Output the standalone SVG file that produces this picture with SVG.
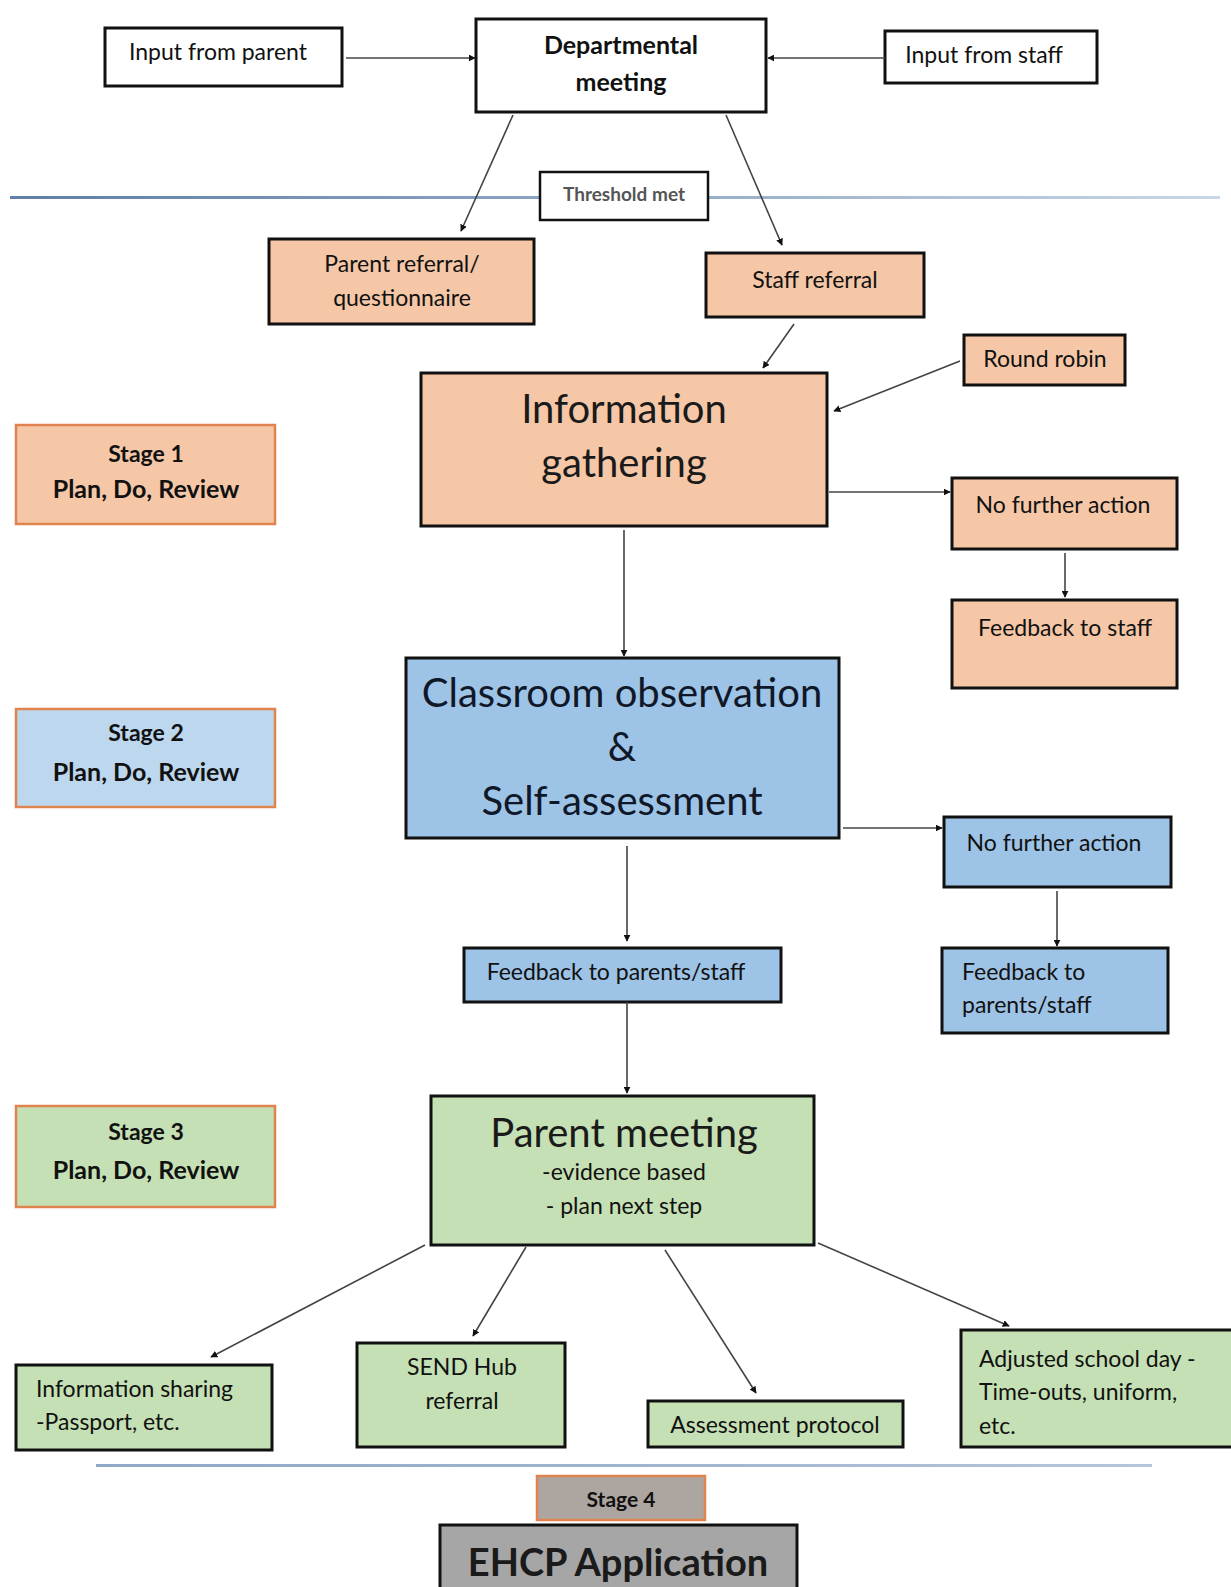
<svg xmlns="http://www.w3.org/2000/svg" width="1231" height="1587" viewBox="0 0 1231 1587">
<defs>
<marker id="ah" viewBox="0 0 10 10" refX="9" refY="5" markerWidth="7" markerHeight="7" orient="auto" markerUnits="userSpaceOnUse">
<path d="M0,0 L10,5 L0,10 z" fill="#111"/>
</marker>
<linearGradient id="lg1" gradientUnits="userSpaceOnUse" x1="10" y1="0" x2="1220" y2="0">
<stop offset="0" stop-color="#5F7FA6"/>
<stop offset="0.5" stop-color="#8FA8C6"/>
<stop offset="1" stop-color="#C9D6E6"/>
</linearGradient>
<linearGradient id="lg2" gradientUnits="userSpaceOnUse" x1="96" y1="0" x2="1152" y2="0">
<stop offset="0" stop-color="#8FA8C6"/>
<stop offset="0.5" stop-color="#9FB4CE"/>
<stop offset="1" stop-color="#B5C6DA"/>
</linearGradient>
<style>
.b{stroke:#111;stroke-width:3}
.w{fill:#fff}
.o{fill:#F5C7A7}
.bl{fill:#9DC3E6}
.g{fill:#C5E0B4}
.st{stroke:#E0844F;stroke-width:2.5}
.t{font-family:Lato,"Liberation Sans",sans-serif;font-size:23px;fill:#111}
.c{text-anchor:middle}
.bd{font-weight:bold}
.big{font-family:Lato,"Liberation Sans",sans-serif;font-size:40px;fill:#1a1a1a}
.cn line{stroke:#444;stroke-width:1.6;marker-end:url(#ah)}
</style>
</defs>
<rect width="1231" height="1587" fill="#fff"/>

<rect x="10" y="196" width="1210" height="3" fill="url(#lg1)"/>
<rect x="96" y="1464" width="1056" height="3" fill="url(#lg2)"/>

<g id="input-parent"><rect class="b w" x="105" y="28" width="237" height="58"/><text class="t c" x="218" y="60">Input from parent</text></g>
<g id="dept-meeting"><rect class="b w" x="476" y="19" width="290" height="93"/><text class="t c bd" x="621" y="54" style="font-size:25px">Departmental</text><text class="t c bd" x="621" y="91" style="font-size:25px">meeting</text></g>
<g id="input-staff"><rect class="b w" x="885" y="31" width="212" height="52"/><text class="t c" x="984" y="63">Input from staff</text></g>
<g id="threshold"><rect class="b w" x="540" y="172" width="168" height="48" style="stroke-width:2.5"/><text class="t c bd" x="624" y="201" style="font-size:19px;fill:#555">Threshold met</text></g>
<g id="parent-referral"><rect class="b o" x="269" y="239" width="265" height="85"/><text class="t c" x="402" y="272">Parent referral/</text><text class="t c" x="402" y="306">questionnaire</text></g>
<g id="staff-referral"><rect class="b o" x="706" y="253" width="218" height="64"/><text class="t c" x="815" y="288">Staff referral</text></g>
<g id="round-robin"><rect class="b o" x="964" y="335" width="161" height="50"/><text class="t c" x="1045" y="367">Round robin</text></g>
<g id="info-gathering"><rect class="b o" x="421" y="373" width="406" height="153"/><text class="big c" x="624" y="423">Information</text><text class="big c" x="624" y="477">gathering</text></g>
<g id="stage1"><rect class="st o" x="16" y="425" width="259" height="99"/><text class="t c bd" x="146" y="462" style="font-size:23px">Stage 1</text><text class="t c bd" x="146" y="498" style="font-size:25px">Plan, Do, Review</text></g>
<g id="nfa1"><rect class="b o" x="952" y="478" width="225" height="71"/><text class="t c" x="1063" y="513">No further action</text></g>
<g id="feedback-staff"><rect class="b o" x="952" y="600" width="225" height="88"/><text class="t c" x="1065" y="636">Feedback to staff</text></g>
<g id="classroom"><rect class="b bl" x="406" y="658" width="433" height="180"/><text class="big c" x="622" y="707" style="fill:#101828">Classroom observation</text><text class="big c" x="622" y="761" style="fill:#101828">&amp;</text><text class="big c" x="622" y="815" style="fill:#101828">Self-assessment</text></g>
<g id="stage2"><rect class="st bl" x="16" y="709" width="259" height="98" style="fill:#BDD7EE"/><text class="t c bd" x="146" y="741" style="font-size:23px">Stage 2</text><text class="t c bd" x="146" y="781" style="font-size:25px">Plan, Do, Review</text></g>
<g id="nfa2"><rect class="b bl" x="944" y="817" width="227" height="70"/><text class="t c" x="1054" y="851">No further action</text></g>
<g id="feedback-center"><rect class="b bl" x="464" y="948" width="317" height="54"/><text class="t c" x="616" y="980">Feedback to parents/staff</text></g>
<g id="feedback-right"><rect class="b bl" x="942" y="948" width="226" height="85"/><text class="t" x="962" y="980">Feedback to</text><text class="t" x="962" y="1013">parents/staff</text></g>
<g id="parent-meeting"><rect class="b g" x="431" y="1096" width="383" height="149"/><text class="big c" x="624" y="1147">Parent meeting</text><text class="t c" x="624" y="1180">-evidence based</text><text class="t c" x="624" y="1214">- plan next step</text></g>
<g id="stage3"><rect class="st g" x="16" y="1106" width="259" height="101"/><text class="t c bd" x="146" y="1140" style="font-size:23px">Stage 3</text><text class="t c bd" x="146" y="1179" style="font-size:25px">Plan, Do, Review</text></g>
<g id="info-sharing"><rect class="b g" x="16" y="1365" width="256" height="85"/><text class="t" x="36" y="1397">Information sharing</text><text class="t" x="36" y="1430">-Passport, etc.</text></g>
<g id="send-hub"><rect class="b g" x="357" y="1343" width="208" height="104"/><text class="t c" x="462" y="1375">SEND Hub</text><text class="t c" x="462" y="1409">referral</text></g>
<g id="assessment"><rect class="b g" x="648" y="1401" width="255" height="46"/><text class="t c" x="775" y="1433">Assessment protocol</text></g>
<g id="adjusted"><rect class="b g" x="961" y="1330" width="272" height="117"/><text class="t" x="979" y="1367">Adjusted school day -</text><text class="t" x="979" y="1400">Time-outs, uniform,</text><text class="t" x="979" y="1434">etc.</text></g>
<g id="stage4"><rect class="st" x="537" y="1476" width="168" height="44" style="fill:#ADA5A0"/><text class="t c bd" x="621" y="1507" style="font-size:21px">Stage 4</text></g>
<g id="ehcp"><rect class="b" x="440" y="1525" width="357" height="70" style="fill:#A6A6A6"/><text class="big c" x="618" y="1576" style="font-size:38px;font-weight:bold">EHCP Application</text></g>

<g id="connectors" class="cn">
<line x1="346" y1="58" x2="475" y2="58"/>
<line x1="885" y1="58" x2="768" y2="58"/>
<line x1="513" y1="115" x2="461" y2="231"/>
<line x1="726" y1="115" x2="782" y2="245"/>
<line x1="794" y1="324" x2="763" y2="368"/>
<line x1="960" y1="361" x2="834" y2="411"/>
<line x1="829" y1="492" x2="950" y2="492"/>
<line x1="1065" y1="553" x2="1065" y2="597"/>
<line x1="624" y1="530" x2="624" y2="656"/>
<line x1="843" y1="828" x2="942" y2="828"/>
<line x1="1057" y1="891" x2="1057" y2="946"/>
<line x1="627" y1="846" x2="627" y2="941"/>
<line x1="627" y1="1002" x2="627" y2="1093"/>
<line x1="425" y1="1245" x2="211" y2="1357"/>
<line x1="526" y1="1247" x2="473" y2="1336"/>
<line x1="665" y1="1250" x2="756" y2="1393"/>
<line x1="818" y1="1243" x2="1009" y2="1326"/>
</g>
</svg>
